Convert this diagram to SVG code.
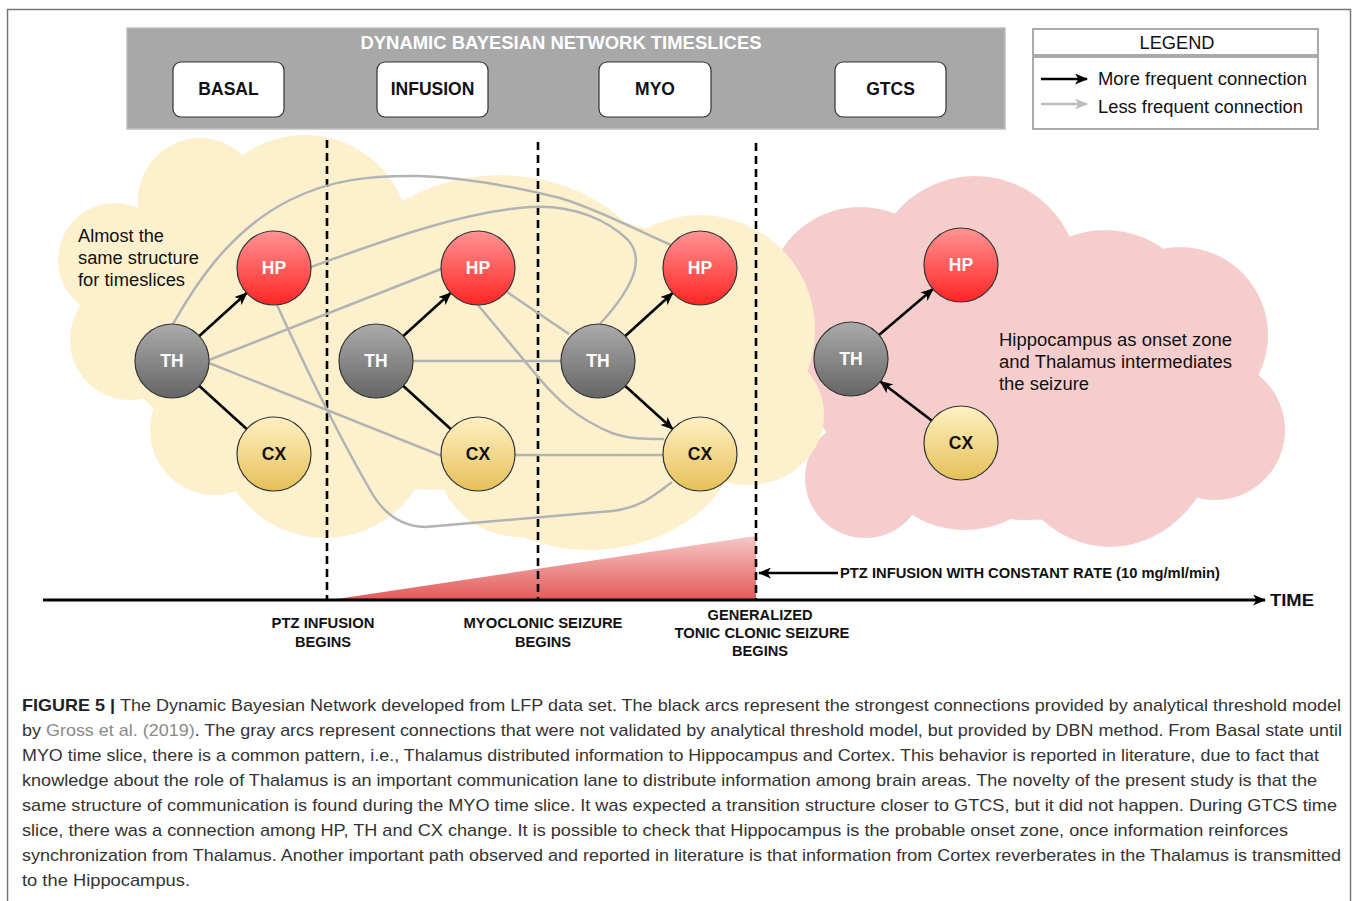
<svg xmlns="http://www.w3.org/2000/svg" width="1358" height="901" viewBox="0 0 1358 901">
<defs>
<linearGradient id="gHP" x1="0" y1="0" x2="0" y2="1"><stop offset="0" stop-color="#ff9494"/><stop offset="1" stop-color="#ff2424"/></linearGradient>
<linearGradient id="gTH" x1="0" y1="0" x2="0" y2="1"><stop offset="0" stop-color="#ababab"/><stop offset="1" stop-color="#656565"/></linearGradient>
<linearGradient id="gCX" x1="0" y1="0" x2="0" y2="1"><stop offset="0" stop-color="#fff1c4"/><stop offset="1" stop-color="#e5c058"/></linearGradient>
<linearGradient id="gTri" x1="0" y1="0" x2="0" y2="1"><stop offset="0" stop-color="#f6c8c8"/><stop offset="1" stop-color="#e35a5a"/></linearGradient>
<marker id="ah" viewBox="0 0 13 11" refX="12" refY="5.5" markerWidth="13" markerHeight="11" markerUnits="userSpaceOnUse" orient="auto"><path d="M0,0 L13,5.5 L0,11 L3.5,5.5 z" fill="#000"/></marker>
<marker id="ahg" viewBox="0 0 13 11" refX="12" refY="5.5" markerWidth="13" markerHeight="11" markerUnits="userSpaceOnUse" orient="auto"><path d="M0,0 L13,5.5 L0,11 L3.5,5.5 z" fill="#bdbdbd"/></marker>
<style>
.bold{font-family:"Liberation Sans",Arial,sans-serif;font-weight:bold}
.reg{font-family:"Liberation Sans",Arial,sans-serif}
.slice{fill:#fff;stroke:#333;stroke-width:1.2}
.stitle{font-size:17.5px;fill:#111;text-anchor:middle}
.node{stroke:#333;stroke-width:1.2}
.ntext{font-size:17.5px;text-anchor:middle}
.blk{stroke:#000;stroke-width:2.6;fill:none}
.gry{stroke:#b3b3b3;stroke-width:2.5;fill:none}
.dash{stroke:#000;stroke-width:2.6;stroke-dasharray:8 5}
.ylw{fill:#fdf0cd}
.pnk{fill:#f6cdcd}
.lab{font-size:14.5px;fill:#111;text-anchor:middle}
.note{font-size:17.5px;fill:#111}
.cap{font-size:17px;fill:#333}
</style>
</defs>
<rect x="7.5" y="9.5" width="1343" height="1000" fill="#fff" stroke="#777" stroke-width="1.5"/>

<!-- clouds -->
<g id="cloud-gtcs" class="pnk">
<circle cx="860" cy="300" r="93"/>
<circle cx="975" cy="280" r="104"/>
<circle cx="1105" cy="330" r="100"/>
<circle cx="1180" cy="335" r="88"/>
<circle cx="1215" cy="430" r="70"/>
<ellipse cx="1110" cy="420" rx="110" ry="127"/>
<circle cx="965" cy="430" r="100"/>
<circle cx="865" cy="478" r="60"/>
<ellipse cx="1030" cy="380" rx="220" ry="140"/>
</g>
<g id="cloud-early" class="ylw">
<circle cx="115" cy="260" r="57"/>
<circle cx="130" cy="340" r="60"/>
<circle cx="200" cy="200" r="62"/>
<circle cx="305" cy="240" r="105"/>
<circle cx="215" cy="430" r="65"/>
<ellipse cx="500" cy="320" rx="170" ry="145"/>
<circle cx="700" cy="330" r="115"/>
<ellipse cx="748" cy="415" rx="76" ry="70"/>
<ellipse cx="590" cy="430" rx="150" ry="120"/>
<circle cx="520" cy="452" r="85"/>
<ellipse cx="325" cy="425" rx="110" ry="113"/>
<ellipse cx="450" cy="345" rx="330" ry="145"/>
</g>

<!-- header -->
<g id="header">
<rect x="127" y="28" width="878" height="101" fill="#a8a8a8" stroke="#bdbdbd" stroke-width="1.5"/>
<text x="561" y="49" class="bold" font-size="18" fill="#fff" text-anchor="middle" textLength="401" lengthAdjust="spacingAndGlyphs">DYNAMIC BAYESIAN NETWORK TIMESLICES</text>
</g>
<g id="slice-basal"><rect class="slice" x="173" y="62" width="111" height="55" rx="8"/><text class="bold stitle" x="228.5" y="95">BASAL</text></g>
<g id="slice-infusion"><rect class="slice" x="377" y="62" width="111" height="55" rx="8"/><text class="bold stitle" x="432.5" y="95">INFUSION</text></g>
<g id="slice-myo"><rect class="slice" x="599" y="62" width="112" height="55" rx="8"/><text class="bold stitle" x="655" y="95">MYO</text></g>
<g id="slice-gtcs"><rect class="slice" x="835" y="62" width="111" height="55" rx="8"/><text class="bold stitle" x="890.5" y="95">GTCS</text></g>

<!-- legend -->
<g id="legend">
<rect x="1033" y="29" width="285" height="26" fill="#fff" stroke="#aaa" stroke-width="2"/>
<rect x="1033" y="57" width="285" height="72" fill="#fff" stroke="#aaa" stroke-width="2"/>
<text class="reg" x="1177" y="49" font-size="17.5" fill="#111" text-anchor="middle" textLength="75" lengthAdjust="spacingAndGlyphs">LEGEND</text>
<line x1="1041" y1="79" x2="1087" y2="79" stroke="#000" stroke-width="2.6" marker-end="url(#ah)"/>
<line x1="1041" y1="104" x2="1087" y2="104" stroke="#bdbdbd" stroke-width="2.6" marker-end="url(#ahg)"/>
<text class="reg" x="1098" y="85" font-size="17.5" fill="#111" textLength="209" lengthAdjust="spacingAndGlyphs">More frequent connection</text>
<text class="reg" x="1098" y="113" font-size="17.5" fill="#111" textLength="205" lengthAdjust="spacingAndGlyphs">Less frequent connection</text>
</g>

<!-- timeline -->
<g id="timeline">
<polygon points="330,600 756,600 756,536" fill="url(#gTri)"/>
<line class="dash" x1="327" y1="140" x2="327" y2="600"/>
<line class="dash" x1="538" y1="142" x2="538" y2="600"/>
<line class="dash" x1="756" y1="143" x2="756" y2="600"/>
<line x1="43" y1="600" x2="1265" y2="600" stroke="#000" stroke-width="3" marker-end="url(#ah)"/>
<text class="bold" x="1270" y="606" font-size="17" fill="#111" textLength="44" lengthAdjust="spacingAndGlyphs">TIME</text>
<line x1="838" y1="573" x2="759" y2="573" stroke="#000" stroke-width="2.6" marker-end="url(#ah)"/>
<text class="bold" x="840" y="578" font-size="14.5" fill="#111" textLength="380" lengthAdjust="spacingAndGlyphs">PTZ INFUSION WITH CONSTANT RATE (10 mg/ml/min)</text>
<text class="bold lab" x="323" y="628" textLength="103" lengthAdjust="spacingAndGlyphs">PTZ INFUSION</text>
<text class="bold lab" x="323" y="647" textLength="56" lengthAdjust="spacingAndGlyphs">BEGINS</text>
<text class="bold lab" x="543" y="628" textLength="159" lengthAdjust="spacingAndGlyphs">MYOCLONIC SEIZURE</text>
<text class="bold lab" x="543" y="647" textLength="56" lengthAdjust="spacingAndGlyphs">BEGINS</text>
<text class="bold lab" x="760" y="620" textLength="105" lengthAdjust="spacingAndGlyphs">GENERALIZED</text>
<text class="bold lab" x="762" y="638" textLength="175" lengthAdjust="spacingAndGlyphs">TONIC CLONIC SEIZURE</text>
<text class="bold lab" x="760" y="656" textLength="56" lengthAdjust="spacingAndGlyphs">BEGINS</text>
</g>

<!-- notes -->
<g id="note-left" class="reg note">
<text x="78" y="242" textLength="86" lengthAdjust="spacingAndGlyphs">Almost the</text>
<text x="78" y="264" textLength="121" lengthAdjust="spacingAndGlyphs">same structure</text>
<text x="78" y="286" textLength="107" lengthAdjust="spacingAndGlyphs">for timeslices</text>
</g>
<g id="note-right" class="reg note">
<text x="999" y="346" textLength="233" lengthAdjust="spacingAndGlyphs">Hippocampus as onset zone</text>
<text x="999" y="368" textLength="233" lengthAdjust="spacingAndGlyphs">and Thalamus intermediates</text>
<text x="999" y="390" textLength="90" lengthAdjust="spacingAndGlyphs">the seizure</text>
</g>

<!-- connectors -->
<g id="connectors">
<path class="gry" d="M173,324 C195,285 230,230 290,200 C330,180 370,175 420,176 C470,178 520,188 560,198 C600,210 640,232 671,245"/>
<path class="gry" d="M311,267 C380,242 460,212 530,207 C575,204 610,222 628,240 C642,256 640,280 600,324"/>
<path class="gry" d="M209,360 L441,269"/>
<path class="gry" d="M209,363 L442,456"/>
<path class="gry" d="M277,305 C300,355 330,420 370,490 Q390,526 425,527 L612,511 C640,508 655,495 672,482"/>
<path class="gry" d="M413,361 L561,361"/>
<path class="gry" d="M507,292 L569,334"/>
<path class="gry" d="M478,305 L538,377 C555,397 575,418 612,433 C628,439 645,439 664,439"/>
<path class="gry" d="M515,455 L663,455"/>
<line class="blk" x1="199.3" y1="336" x2="246.7" y2="293" marker-end="url(#ah)"/>
<line class="blk" x1="199.3" y1="386" x2="246.7" y2="429"/>
<line class="blk" x1="403.3" y1="336" x2="450.7" y2="293" marker-end="url(#ah)"/>
<line class="blk" x1="403.3" y1="386" x2="450.7" y2="429"/>
<line class="blk" x1="625.3" y1="336" x2="672.7" y2="293" marker-end="url(#ah)"/>
<line class="blk" x1="625.3" y1="386" x2="672.7" y2="429" marker-end="url(#ah)"/>
<line class="blk" x1="879" y1="335" x2="933" y2="289" marker-end="url(#ah)"/>
<line class="blk" x1="931.6" y1="420.5" x2="880.4" y2="381.5" marker-end="url(#ah)"/>
</g>

<!-- nodes -->
<g id="basal-hp"><circle class="node" cx="274" cy="268" r="37" fill="url(#gHP)"/><text class="bold ntext" x="274" y="274" fill="#fff">HP</text></g>
<g id="basal-th"><circle class="node" cx="172" cy="361" r="37" fill="url(#gTH)"/><text class="bold ntext" x="172" y="367" fill="#fff">TH</text></g>
<g id="basal-cx"><circle class="node" cx="274" cy="454" r="37" fill="url(#gCX)"/><text class="bold ntext" x="274" y="460" fill="#111">CX</text></g>
<g id="infusion-hp"><circle class="node" cx="478" cy="268" r="37" fill="url(#gHP)"/><text class="bold ntext" x="478" y="274" fill="#fff">HP</text></g>
<g id="infusion-th"><circle class="node" cx="376" cy="361" r="37" fill="url(#gTH)"/><text class="bold ntext" x="376" y="367" fill="#fff">TH</text></g>
<g id="infusion-cx"><circle class="node" cx="478" cy="454" r="37" fill="url(#gCX)"/><text class="bold ntext" x="478" y="460" fill="#111">CX</text></g>
<g id="myo-hp"><circle class="node" cx="700" cy="268" r="37" fill="url(#gHP)"/><text class="bold ntext" x="700" y="274" fill="#fff">HP</text></g>
<g id="myo-th"><circle class="node" cx="598" cy="361" r="37" fill="url(#gTH)"/><text class="bold ntext" x="598" y="367" fill="#fff">TH</text></g>
<g id="myo-cx"><circle class="node" cx="700" cy="454" r="37" fill="url(#gCX)"/><text class="bold ntext" x="700" y="460" fill="#111">CX</text></g>
<g id="gtcs-hp"><circle class="node" cx="961" cy="265" r="37" fill="url(#gHP)"/><text class="bold ntext" x="961" y="271" fill="#fff">HP</text></g>
<g id="gtcs-th"><circle class="node" cx="851" cy="359" r="37" fill="url(#gTH)"/><text class="bold ntext" x="851" y="365" fill="#fff">TH</text></g>
<g id="gtcs-cx"><circle class="node" cx="961" cy="443" r="37" fill="url(#gCX)"/><text class="bold ntext" x="961" y="449" fill="#111">CX</text></g>

<!-- caption -->
<g id="caption" class="reg cap">
<text x="22" y="711" textLength="1319" lengthAdjust="spacingAndGlyphs"><tspan font-weight="bold" fill="#222">FIGURE 5 | </tspan>The Dynamic Bayesian Network developed from LFP data set. The black arcs represent the strongest connections provided by analytical threshold model</text>
<text x="22" y="736" textLength="1320" lengthAdjust="spacingAndGlyphs">by <tspan fill="#8a8a8a">Gross et al. (2019)</tspan>. The gray arcs represent connections that were not validated by analytical threshold model, but provided by DBN method. From Basal state until</text>
<text x="22" y="761" textLength="1297" lengthAdjust="spacingAndGlyphs">MYO time slice, there is a common pattern, i.e., Thalamus distributed information to Hippocampus and Cortex. This behavior is reported in literature, due to fact that</text>
<text x="22" y="786" textLength="1295" lengthAdjust="spacingAndGlyphs">knowledge about the role of Thalamus is an important communication lane to distribute information among brain areas. The novelty of the present study is that the</text>
<text x="22" y="811" textLength="1315" lengthAdjust="spacingAndGlyphs">same structure of communication is found during the MYO time slice. It was expected a transition structure closer to GTCS, but it did not happen. During GTCS time</text>
<text x="22" y="836" textLength="1266" lengthAdjust="spacingAndGlyphs">slice, there was a connection among HP, TH and CX change. It is possible to check that Hippocampus is the probable onset zone, once information reinforces</text>
<text x="22" y="861" textLength="1319" lengthAdjust="spacingAndGlyphs">synchronization from Thalamus. Another important path observed and reported in literature is that information from Cortex reverberates in the Thalamus is transmitted</text>
<text x="22" y="886" textLength="168" lengthAdjust="spacingAndGlyphs">to the Hippocampus.</text>
</g>
</svg>
